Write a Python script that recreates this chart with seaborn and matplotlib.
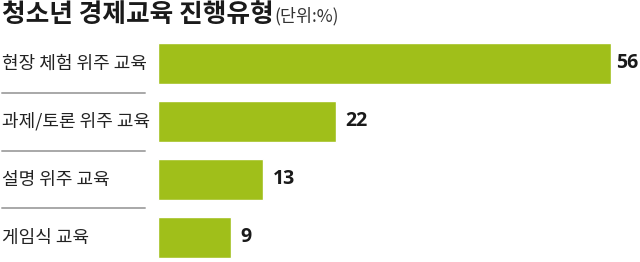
import matplotlib
matplotlib.use("Agg")
import matplotlib.pyplot as plt
import matplotlib.transforms as mtransforms
from matplotlib.lines import Line2D
import seaborn as sns
import pandas as pd

categories = ["현장 체험 위주 교육", "과제/토론 위주 교육", "설명 위주 교육", "게임식 교육"]
values = [56, 22, 13, 9]
title = "청소년 경제교육 진행유형"
unit = "(단위:%)"

sns.set_theme(style="white")
plt.rcParams['font.family'] = ['Noto Sans CJK KR', 'DejaVu Sans']

W, H = 640, 262
fig = plt.figure(figsize=(W / 100, H / 100), dpi=100)
fig.patch.set_facecolor("white")

# axes: x from px 158 to 640, y from px 34.5 to 262
left_px, top_px = 158, 34.5
ax = fig.add_axes([left_px / W, 0, (W - left_px) / W, (H - top_px) / H])
df = pd.DataFrame({"cat": categories, "val": values})
sns.barplot(data=df, x="val", y="cat", ax=ax, color="#a0bf1a", saturation=1,
            width=0.71, orient="h")
ax.set_xlim(0, (W - left_px) / 8.09)
ax.set_ylim(-0.5 + (H - top_px) / 58.0, -0.5)
ax.axis("off")

fig.canvas.draw()
renderer = fig.canvas.get_renderer()
for i, v in enumerate(values):
    t = ax.annotate(str(v), xy=(v, i), xytext=(7, 0), textcoords="offset points",
                    ha="left", va="center", fontsize=14, fontweight="bold",
                    color="#1a1a1a", family=["Open Sans", "DejaVu Sans"])
    bb = t.get_window_extent(renderer)
    over = bb.x1 - (W - 2)
    if over > 0:
        t.set_position((7 - over * 72 / 100, 0))

trans = mtransforms.blended_transform_factory(fig.transFigure, ax.transData)
for i, c in enumerate(categories):
    fig.text(2 / W, i, c, transform=trans, ha="left", va="center",
             fontsize=13, color="#222222")
for y in [0.5, 1.5, 2.5]:
    fig.add_artist(Line2D([2 / W, 145 / W], [y, y], transform=trans,
                          color="#a8a8a8", lw=1.4))

t = fig.text(2 / W, 1 - 14 / H, title, ha="left", va="center", fontsize=18.5,
             fontweight="bold", color="#1a1a1a")
fig.canvas.draw()
bb = t.get_window_extent()
fig.text(bb.x1 / W + 1 / W, 1 - 16 / H, unit, ha="left", va="center",
         fontsize=12.5, color="#333333")

fig.savefig("out.png", dpi=100, facecolor="white")
